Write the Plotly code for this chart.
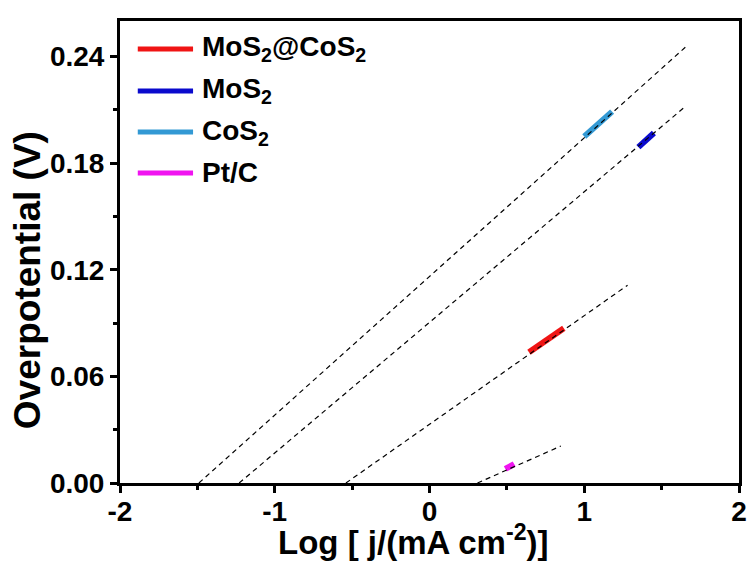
import plotly.graph_objects as go

# Tafel data: log current density vs overpotential
series_names = ["MoS<sub>2</sub>@CoS<sub>2</sub>", "MoS<sub>2</sub>", "CoS<sub>2</sub>", "Pt/C"]
series_colors = ["#F01414", "#0A0ACD", "#3399D4", "#F014F0"]

mos2_cos2_logj = [0.643, 0.70, 0.76, 0.82, 0.868]
mos2_cos2_eta = [0.0736, 0.0772, 0.0809, 0.0846, 0.0871]

mos2_logj = [1.35, 1.40, 1.45]
mos2_eta = [0.189, 0.193, 0.197]

cos2_logj = [1.00, 1.09, 1.18]
cos2_eta = [0.195, 0.202, 0.209]

ptc_logj = [0.49, 0.52, 0.547]
ptc_eta = [0.0079, 0.0093, 0.0107]

# Linear Tafel fits (end points of each dashed guide line)
fit_mos2_cos2_logj = [-0.54, 1.28]
fit_mos2_cos2_eta = [0.0, 0.1113]
fit_mos2_logj = [-1.23, 1.655]
fit_mos2_eta = [0.0, 0.212]
fit_cos2_logj = [-1.49, 1.666]
fit_cos2_eta = [0.0, 0.2462]
fit_ptc_logj = [0.31, 0.849]
fit_ptc_eta = [0.0, 0.0208]

x_ticks = [-2, -1, 0, 1, 2]
y_ticks = [0.00, 0.06, 0.12, 0.18, 0.24]
y_tick_labels = ["0.00", "0.06", "0.12", "0.18", "0.24"]

x_title = "Log [ j/(mA cm<sup>-2</sup>)]"
y_title = "Overpotential (V)"

data_x = [mos2_cos2_logj, mos2_logj, cos2_logj, ptc_logj]
data_y = [mos2_cos2_eta, mos2_eta, cos2_eta, ptc_eta]
fit_x = [fit_mos2_cos2_logj, fit_mos2_logj, fit_cos2_logj, fit_ptc_logj]
fit_y = [fit_mos2_cos2_eta, fit_mos2_eta, fit_cos2_eta, fit_ptc_eta]

FONT = "Liberation Sans, Arial, sans-serif"
W, H = 753, 563
ML, MR, MT, MB = 120, 6, 21, 80

fig = go.Figure()

for name, color, xs, ys in zip(series_names, series_colors, data_x, data_y):
    fig.add_trace(go.Scatter(
        x=xs, y=ys, mode="lines", name=name,
        line=dict(color=color, width=6),
        showlegend=False,
    ))

for xs, ys in zip(fit_x, fit_y):
    fig.add_trace(go.Scatter(
        x=xs, y=ys, mode="lines",
        line=dict(color="black", width=1.2, dash="5px,4px"),
        showlegend=False, hoverinfo="skip",
    ))

plot_w = W - ML - MR
plot_h = H - MT - MB


def px_x(xp):
    return (xp - ML) / plot_w


def px_y(yp):
    return (H - MB - yp) / plot_h


# Hand-built legend in the upper-left corner
legend_rows_px = [49, 91, 132, 173]
shapes, annotations = [], []
for name, color, ypx in zip(series_names, series_colors, legend_rows_px):
    shapes.append(dict(
        type="line", xref="paper", yref="paper",
        x0=px_x(138), x1=px_x(194), y0=px_y(ypx), y1=px_y(ypx),
        line=dict(color=color, width=5),
    ))
    annotations.append(dict(
        xref="paper", yref="paper", x=px_x(201), y=px_y(ypx),
        xanchor="left", yanchor="middle", showarrow=False,
        text=name, font=dict(family=FONT, size=28, color="black", weight="bold"),
    ))

# Axis titles
annotations.append(dict(
    xref="paper", yref="paper", x=px_x(417), y=px_y(540),
    xanchor="center", yanchor="middle", showarrow=False,
    text=x_title, font=dict(family=FONT, size=33, color="black", weight="bold"),
))
annotations.append(dict(
    xref="paper", yref="paper", x=px_x(26), y=px_y(280),
    xanchor="center", yanchor="middle", showarrow=False, textangle=-90,
    text=y_title, font=dict(family=FONT, size=37, color="black", weight="bold"),
))

axis_common = dict(
    showline=True, linecolor="black", linewidth=3, mirror=True,
    ticks="outside", ticklen=7, tickwidth=3, tickcolor="black",
    showgrid=False, zeroline=False,
    tickfont=dict(family=FONT, size=28, color="black", weight="bold"),
)

fig.update_xaxes(
    range=[-2, 2], tickvals=x_ticks, ticktext=[str(v) for v in x_ticks],
    ticklabelstandoff=-6,
    minor=dict(dtick=0.5, ticks="outside", ticklen=4, tickwidth=3, tickcolor="black"),
    **axis_common,
)
fig.update_yaxes(
    range=[0, 0.26], tickvals=y_ticks, ticktext=y_tick_labels,
    minor=dict(dtick=0.03, ticks="outside", ticklen=4, tickwidth=3, tickcolor="black"),
    **axis_common,
)

fig.update_layout(
    width=W, height=H,
    margin=dict(l=ML, r=MR, t=MT, b=MB),
    paper_bgcolor="white", plot_bgcolor="white",
    shapes=shapes, annotations=annotations,
    showlegend=False,
)

fig.write_html("out.html")
